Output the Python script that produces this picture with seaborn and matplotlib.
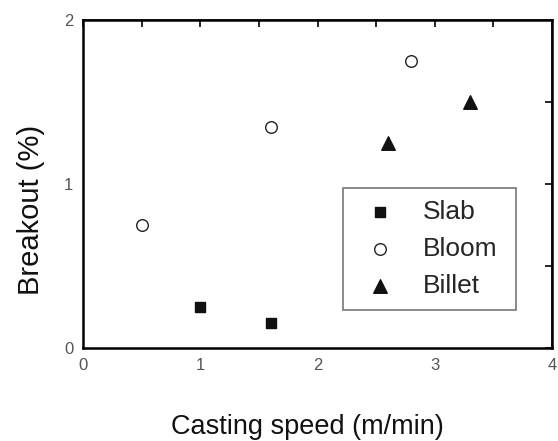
import matplotlib
matplotlib.use("Agg")
import matplotlib.pyplot as plt
import seaborn as sns
import pandas as pd

sns.set_theme(style="white")
plt.rcParams['font.family'] = ['Liberation Sans', 'DejaVu Sans']

slab_x = [1.0, 1.6]
slab_y = [0.25, 0.15]
bloom_x = [0.5, 1.6, 2.8]
bloom_y = [0.75, 1.35, 1.75]
billet_x = [2.6, 3.3]
billet_y = [1.25, 1.5]
xticks = [0, 1, 2, 3, 4]
yticks = [0, 1, 2]

df = pd.DataFrame({
    "x": slab_x + bloom_x + billet_x,
    "y": slab_y + bloom_y + billet_y,
    "type": ["Slab"] * len(slab_x) + ["Bloom"] * len(bloom_x) + ["Billet"] * len(billet_x),
})

fig = plt.figure(figsize=(5.58, 4.41), dpi=100)
L, R, T, B = 83, 552, 20, 348
ax = fig.add_axes([L/558, 1 - B/441, (R-L)/558, (B-T)/441])

styles = {
    "Slab": dict(marker="s", facecolor="#111111", edgecolor="#111111", s=60),
    "Bloom": dict(marker="o", facecolor="white", edgecolor="#222222", s=70),
    "Billet": dict(marker="^", facecolor="#111111", edgecolor="#111111", s=95),
}
for name, st in styles.items():
    sub = df[df["type"] == name]
    sns.scatterplot(data=sub, x="x", y="y", ax=ax, label=name,
                    marker=st["marker"], s=st["s"], color=st["facecolor"],
                    edgecolor=st["edgecolor"], linewidth=1.0)

ax.set_xlim(0, 4)
ax.set_ylim(0, 2)
ax.set_xticks(xticks)
ax.set_yticks(yticks)
ax.set_xticks([0.5, 1.5, 2.5, 3.5], minor=True)
ax.set_yticks([0.5, 1.5], minor=True)

for sp in ax.spines.values():
    sp.set_color("black")
    sp.set_linewidth(1.8)

ax.tick_params(axis="both", which="major", direction="out", length=5, width=1.4,
               colors="black", labelcolor="#555555", labelsize=12, pad=2)
ax.tick_params(axis="both", which="minor", direction="out", length=4, width=1.3, colors="black")

secx = ax.secondary_xaxis("top")
secx.set_xticks(xticks)
secx.set_xticks([0.5, 1.5, 2.5, 3.5], minor=True)
secx.tick_params(which="both", direction="in", length=5, width=1.4, labeltop=False)
secx.set_xticklabels([])
secy = ax.secondary_yaxis("right")
secy.set_yticks(yticks)
secy.set_yticks([0.5, 1.5], minor=True)
secy.tick_params(which="both", direction="in", length=5, width=1.4, labelright=False)
secy.set_yticklabels([])

ax.set_xlabel("Casting speed (m/min)", fontsize=19.5, color="#111111")
ax.set_ylabel("Breakout (%)", fontsize=21, color="#111111")
ax.xaxis.set_label_coords(0.478, -0.2)
ax.yaxis.set_label_coords(-0.082, 0.42)

leg = ax.legend(loc="lower left",
                bbox_to_anchor=((343-L)/(R-L), (B-310)/(B-T), (516-343)/(R-L), (310-182)/(B-T)),
                mode="expand", frameon=True, fancybox=False, fontsize=19,
                handletextpad=0.68, borderpad=0.45, labelspacing=0.5, handlelength=1.9,
                borderaxespad=0)
leg.get_frame().set_edgecolor("#555555")
leg.get_frame().set_linewidth(1.2)

fig.savefig("out.png", dpi=100)
